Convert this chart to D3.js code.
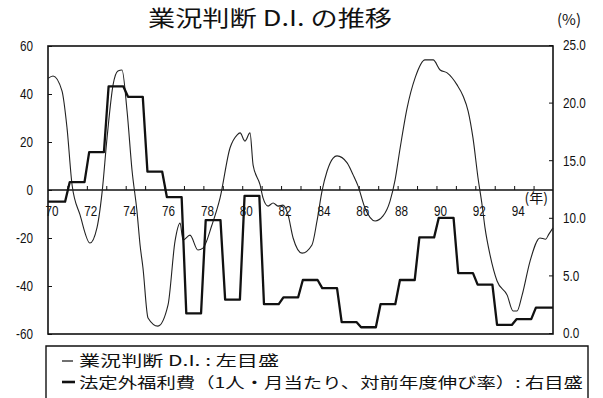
<!DOCTYPE html>
<html><head><meta charset="utf-8">
<script src="https://cdn.jsdelivr.net/npm/d3@7/dist/d3.min.js"></script>
<style>
body{margin:0;background:#fff;}
svg{display:block;}
.num{font-family:"Liberation Sans",Arial,sans-serif;font-size:15px;fill:#111;}
.jp{font-family:"Noto Sans CJK JP",sans-serif;fill:#111;}
</style></head>
<body>
<svg id="c" width="603" height="398"></svg>
<script>
// Business conditions D.I. (left axis), traced readings: decimal year / value
const diYears = [1970.00,1970.26,1970.72,1970.98,1971.24,1971.65,1972.16,1972.52,1972.78,1973.04,1973.35,1973.60,1973.81,1974.07,1974.33,1974.58,1974.74,1974.89,1975.15,1975.66,1976.18,1976.54,1976.80,1976.95,1977.31,1977.72,1977.98,1978.44,1978.86,1979.37,1979.73,1979.89,1980.14,1980.40,1980.56,1980.92,1981.07,1981.33,1981.59,1981.84,1982.10,1982.36,1982.62,1983.08,1983.59,1983.85,1984.11,1984.37,1984.68,1984.88,1985.40,1985.71,1985.96,1986.32,1986.84,1987.25,1987.61,1987.87,1988.13,1988.49,1988.90,1989.41,1989.83,1990.19,1990.55,1991.06,1991.37,1991.63,1991.88,1992.14,1992.35,1992.50,1992.76,1993.12,1993.64,1993.94,1994.15,1994.41,1994.82,1995.33,1995.62,1995.78,1996.00];
const diValues = [46.5,47.5,41.3,25.8,2.1,-10.4,-22.1,-15.8,-1.3,21.7,43.8,49.6,50.0,32.9,7.9,-8.8,-22.9,-32.5,-53.3,-56.7,-47.9,-21.3,-13.8,-20.8,-18.8,-25.0,-24.2,-14.6,-3.3,17.5,22.9,23.8,20.4,23.8,10.4,2.1,-3.3,-6.7,-5.4,-6.7,-6.3,-10.4,-20.0,-26.3,-22.9,-12.9,-0.4,7.9,13.3,14.2,11.3,6.3,1.7,-7.5,-12.9,-10.8,-4.6,4.2,17.5,34.2,46.7,54.2,54.2,50.0,48.8,43.8,39.2,32.9,21.7,5.0,-6.3,-15.8,-27.1,-37.9,-43.8,-50.4,-50.4,-43.8,-29.6,-20.0,-20.5,-18.5,-15.8];

// Non-statutory welfare costs growth, fiscal years (right axis, %)
const fiscalYears = [1970,1971,1972,1973,1974,1975,1976,1977,1978,1979,1980,1981,1982,1983,1984,1985,1986,1987,1988,1989,1990,1991,1992,1993,1994,1995];
const welfareValues = [11.4,13.1,15.7,21.4,20.5,14.0,11.8,1.7,9.8,2.9,11.9,2.5,3.1,4.6,3.9,0.95,0.5,2.5,4.6,8.3,10.0,5.2,4.2,0.7,1.2,2.2];

const leftTicks = [60,40,20,0,-20,-40,-60];
const rightTicks = [25.0,20.0,15.0,10.0,5.0,0.0];
const xLabelYears = [1970,1972,1974,1976,1978,1980,1982,1984,1986,1988,1990,1992,1994];

const titleText = "業況判断 D.I. の推移";
const legendTexts = ["業況判断 D.I. : 左目盛","法定外福利費（1人・月当たり、対前年度伸び率）: 右目盛"];

const svg = d3.select("#c");
const L=48,R=553,T=46,B=334;
const x = d3.scaleLinear().domain([1970,1996]).range([L,R]);
const yL = d3.scaleLinear().domain([-60,60]).range([B,T]);
const yR = d3.scaleLinear().domain([0,25]).range([333,45]);

// frame
svg.append("rect").attr("x",L).attr("y",T).attr("width",R-L).attr("height",B-T)
  .attr("fill","none").attr("stroke","#111").attr("stroke-width",1.6);

// left axis
const gl = svg.append("g").attr("transform",`translate(${L},0)`)
  .call(d3.axisLeft(yL).tickValues(leftTicks).tickSize(-4).tickPadding(15).tickFormat(d=>String(d).replace("-","-")));
gl.select(".domain").remove();
gl.selectAll("text").attr("class","num").attr("fill",null);
gl.selectAll("line").attr("stroke","#111");
gl.attr("font-family",null).attr("font-size",null);

// right axis
const gr = svg.append("g").attr("transform",`translate(${R},0)`)
  .call(d3.axisRight(yR).tickValues(rightTicks).tickSize(-4).tickPadding(10).tickFormat(d3.format(".1f")));
gr.select(".domain").remove();
gr.selectAll("text").attr("class","num").attr("fill",null);
gr.selectAll("line").attr("stroke","#111");
gr.attr("font-family",null).attr("font-size",null);

// x axis on zero line
const years = d3.range(1970,1997);
const gx = svg.append("g").attr("transform",`translate(0,${yL(0)})`)
  .call(d3.axisBottom(x).tickValues(years.slice(1,-1)).tickSize(-4).tickFormat(""));
gx.select(".domain").remove();
gx.selectAll("line").attr("stroke","#111");
svg.append("line").attr("x1",L).attr("x2",R).attr("y1",yL(0)).attr("y2",yL(0))
  .attr("stroke","#111").attr("stroke-width",1.6);
svg.append("g").selectAll("text").data(xLabelYears).join("text")
  .attr("class","num").attr("x",d=>x(d)+4).attr("y",yL(0)+26)
  .attr("text-anchor","middle").text(d=>String(d).slice(2));
svg.append("text").attr("class","jp").attr("x",x(1994)+22).attr("y",yL(0)+13)
  .attr("text-anchor","middle").attr("font-size",14).text("(年)");

// DI line (thin)
svg.append("path").datum(diYears.map((d,i)=>[d,diValues[i]]))
  .attr("fill","none").attr("stroke","#222").attr("stroke-width",1.1)
  .attr("d",d3.line().x(d=>x(d[0])).y(d=>yL(d[1])).curve(d3.curveMonotoneX));

// Welfare step line (thick)
const stepPts = [];
fiscalYears.forEach((fy,i)=>{
  const a = i===0 ? fy : fy+0.12;
  const b = i===fiscalYears.length-1 ? fy+1 : fy+0.88;
  stepPts.push([a,welfareValues[i]],[b,welfareValues[i]]);
});
svg.append("path").datum(stepPts)
  .attr("fill","none").attr("stroke","#111").attr("stroke-width",2.3).attr("stroke-linejoin","round")
  .attr("d",d3.line().x(d=>x(d[0])).y(d=>yR(d[1])));

// narrow numeric labels (reference uses a condensed face)
svg.selectAll("text.num").each(function(){
  const w = this.getComputedTextLength();
  d3.select(this).attr("textLength",(w*0.78).toFixed(1)).attr("lengthAdjust","spacingAndGlyphs");
});

// title
svg.append("text").attr("class","jp").attr("x",148).attr("y",26).attr("font-size",22)
  .attr("font-weight",400).attr("textLength",244).attr("lengthAdjust","spacingAndGlyphs").text(titleText);
svg.append("text").attr("class","jp").attr("x",569).attr("y",25).attr("font-size",15)
  .attr("text-anchor","middle").text("(%)");

// legend
svg.append("path").attr("d","M46,405 V346 H588 V405").attr("fill","none").attr("stroke","#111").attr("stroke-width",1.4);
svg.append("line").attr("x1",62).attr("x2",73).attr("y1",361).attr("y2",361).attr("stroke","#111").attr("stroke-width",1.2);
svg.append("line").attr("x1",62).attr("x2",75).attr("y1",382).attr("y2",382).attr("stroke","#111").attr("stroke-width",2.6);
svg.append("text").attr("class","jp").attr("x",79).attr("y",366).attr("font-size",15)
  .attr("textLength",200).attr("lengthAdjust","spacingAndGlyphs").text(legendTexts[0]);
svg.append("text").attr("class","jp").attr("x",79).attr("y",388).attr("font-size",15)
  .attr("textLength",504).attr("lengthAdjust","spacingAndGlyphs").text(legendTexts[1]);
</script>
</body></html>
